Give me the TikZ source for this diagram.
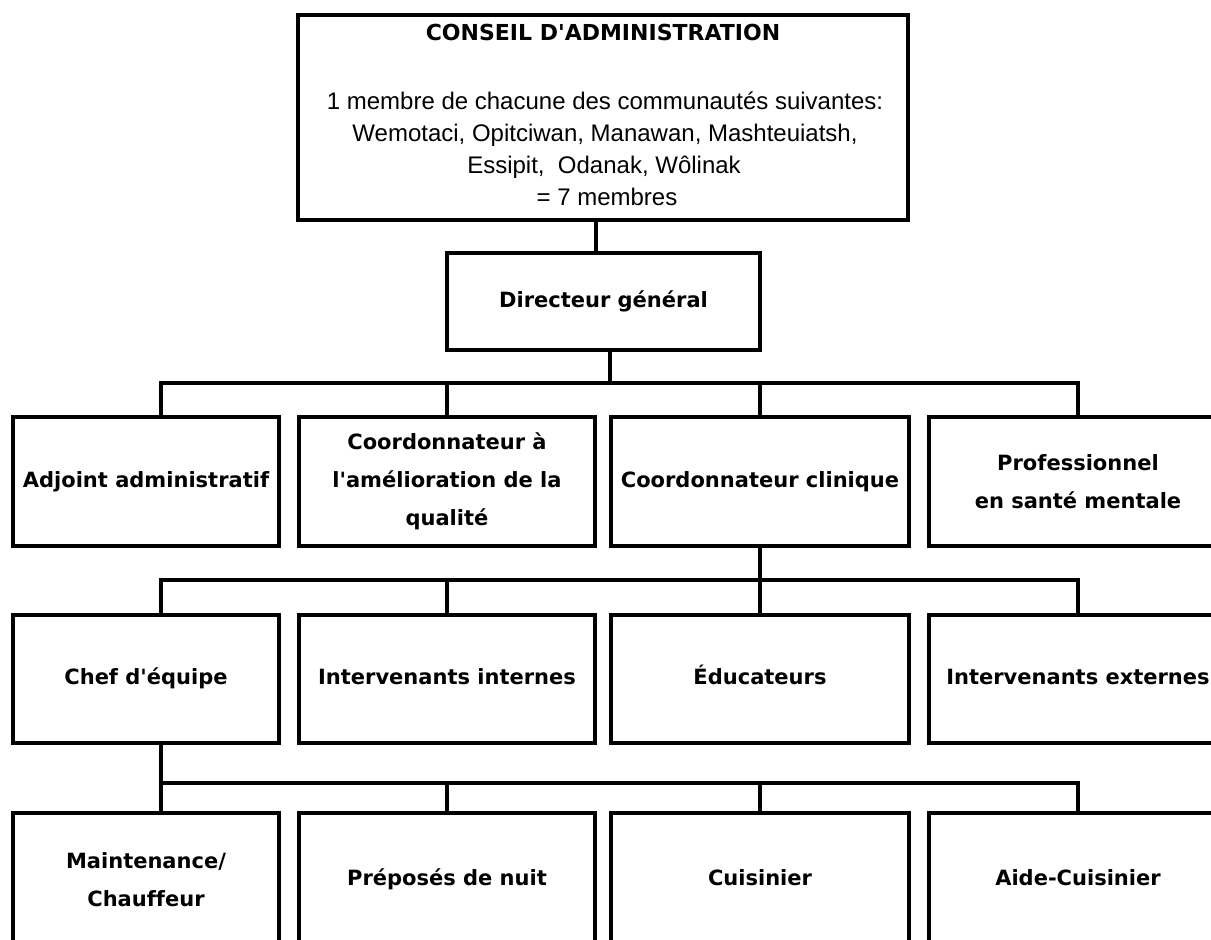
\documentclass[tikz,border=0pt]{standalone}
\usepackage{fontspec}
\setmainfont{DejaVu Sans}[Ligatures={TeXOff,CommonOff}]
\newfontfamily\arialfont{Liberation Sans}
\begin{document}
\begin{tikzpicture}[x=1pt,y=-1pt,
  box/.style={draw=black, line width=3.3pt, rectangle, inner sep=0pt, line join=miter},
  lab/.style={font=\fontsize{21}{38}\selectfont\bfseries, align=center},
  one/.style={text height=15pt, text depth=4pt},
  wire/.style={line width=3.3pt, line join=miter, line cap=butt},
  member/.style={font=\fontsize{24}{32}\selectfont\arialfont, inner sep=0pt, anchor=base}
]
\useasboundingbox (0,0) rectangle (1211,940);
\clip (0,0) rectangle (1211,940);
\fill[white] (0,0) rectangle (1211,940);

% top box
\node[box, minimum width=610pt, minimum height=205pt] (tb) at (603,117.5) {};
\node[font=\fontsize{22}{26}\selectfont\bfseries, inner sep=0pt, anchor=base] (tbt) at (603,40) {CONSEIL D'ADMINISTRATION};
\node[member] (tm1) at (605,109) {1 membre de chacune des communautés suivantes:};
\node[member] (tm2) at (605,141) {Wemotaci, Opitciwan, Manawan, Mashteuiatsh,};
\node[member] (tm3) at (604,173) {Essipit,\ \ Odanak, Wôlinak};
\node[member] (tm4) at (607,205) {= 7 membres};

% directeur
\node[box, lab, one, minimum width=313pt, minimum height=97pt] (dg) at (603.5,301.5) {Directeur général};

% row 2
\node[box, lab, one, minimum width=266pt, minimum height=129pt] (a1) at (146,481.5) {Adjoint administratif};
\node[box, lab, minimum width=296pt, minimum height=129pt] (a2) at (447,481.5) {Coordonnateur à\\l'amélioration de la\\qualité};
\node[box, lab, one, minimum width=298pt, minimum height=129pt] (a3) at (760,481.5) {Coordonnateur clinique};
\node[box, lab, minimum width=298pt, minimum height=129pt] (a4) at (1078,481.5) {Professionnel\\en santé mentale};

% row 3
\node[box, lab, one, minimum width=266pt, minimum height=128pt] (b1) at (146,679) {Chef d'équipe};
\node[box, lab, one, minimum width=296pt, minimum height=128pt] (b2) at (447,679) {Intervenants internes};
\node[box, lab, one, minimum width=298pt, minimum height=128pt] (b3) at (760,679) {Éducateurs};
\node[box, lab, one, minimum width=298pt, minimum height=128pt] (b4) at (1078,679) {Intervenants externes};

% row 4
\node[box, lab, minimum width=266pt, minimum height=134pt] (c1) at (146,880) {Maintenance/\\Chauffeur};
\node[box, lab, one, minimum width=296pt, minimum height=134pt] (c2) at (447,880) {Préposés de nuit};
\node[box, lab, one, minimum width=298pt, minimum height=134pt] (c3) at (760,880) {Cuisinier};
\node[box, lab, one, minimum width=298pt, minimum height=134pt] (c4) at (1078,880) {Aide-Cuisinier};

% junction coordinates
\coordinate (t0) at (596,0);
\coordinate (d0) at (610,383);
\coordinate (j1) at (161,383);
\coordinate (j4) at (1078,383);
\coordinate (k1) at (161,580);
\coordinate (k4) at (1078,580);
\coordinate (m1) at (161,783);
\coordinate (m4) at (1078,783);

% connectors
\draw[wire] (t0 |- tb.south) -- (t0 |- dg.north);
\draw[wire] (d0 |- dg.south) -- (d0);
\draw[wire] (j1 |- a1.north) -- (j1) -- (j4) -- (a4.north);
\draw[wire] (a2.north) -- (a2.north |- j1);
\draw[wire] (a3.north) -- (a3.north |- j1);

\draw[wire] (a3.south) -- (b3.north);
\draw[wire] (k1 |- b1.north) -- (k1) -- (k4) -- (b4.north);
\draw[wire] (b2.north) -- (b2.north |- k1);

\draw[wire] (m1 |- b1.south) -- (m1 |- c1.north);
\draw[wire] (m1) -- (m4) -- (c4.north);
\draw[wire] (c2.north) -- (c2.north |- m1);
\draw[wire] (c3.north) -- (c3.north |- m1);
\end{tikzpicture}
\end{document}
